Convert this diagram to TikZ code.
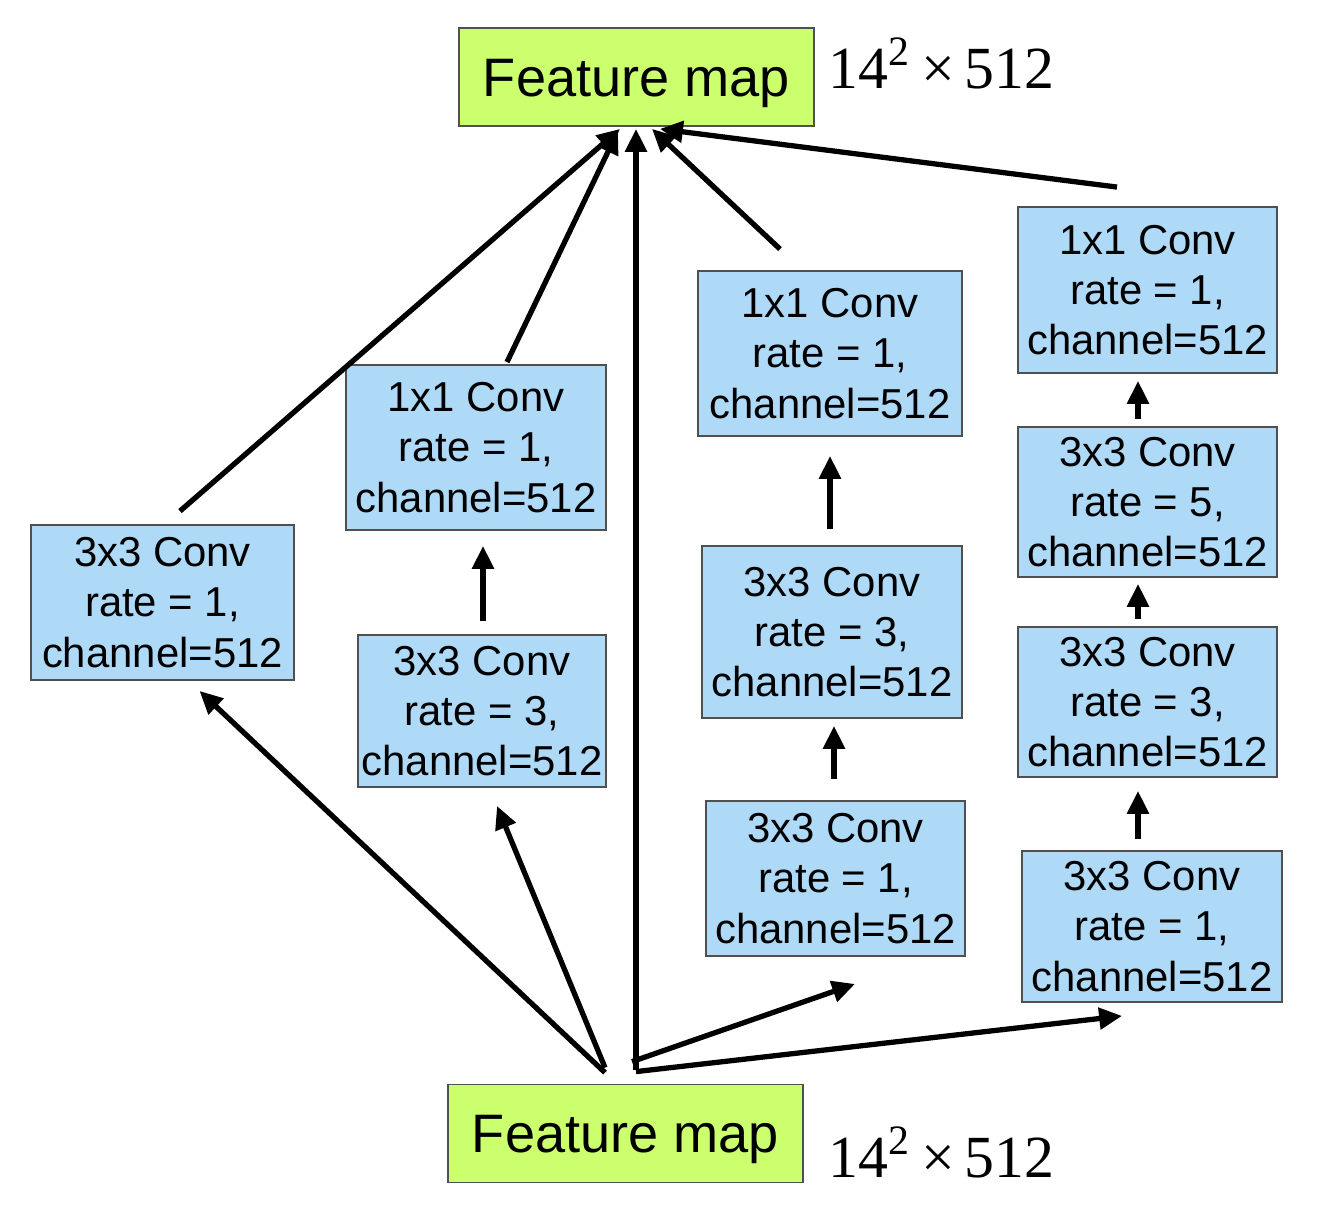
\documentclass[tikz,border=0pt]{standalone}
\usepackage{fontspec}
\setmainfont{Liberation Sans}
\newfontfamily\dimfont{Liberation Serif}
\definecolor{mapGreen}{RGB}{204,255,110}
\definecolor{convBlue}{RGB}{174,218,248}
\definecolor{boxEdge}{RGB}{80,80,80}
\usetikzlibrary{arrows.meta,positioning,calc}

\begin{document}
\begin{tikzpicture}[x=0.01cm, y=-0.01cm,
    conv/.style={rectangle, draw=boxEdge, fill=convBlue, line width=0.5pt,
                 inner sep=0pt, align=center, font=\fontsize{11.9}{14.3}\selectfont},
    fmap/.style={rectangle, draw=boxEdge, fill=mapGreen, line width=0.5pt,
                 minimum width=3.55cm, minimum height=0.98cm, text height=11pt, text depth=0pt,
                 font=\fontsize{15.4}{18}\selectfont},
    dim/.style={anchor=base west, inner sep=0pt, font=\dimfont\fontsize{17}{20}\selectfont},
    conn/.style={-{Triangle[length=6.5pt, width=6pt]}, line width=1.5pt}
  ]
  \useasboundingbox (0,0) rectangle (1322,1206);

  % feature maps
  \node[fmap] (fout) at (636.5,77)    {Feature map};
  \node[fmap] (fin)  at (625.5,1133.5){Feature map};
  \node[dim]  (dimout) at (828,88)    {14\textsuperscript{2}\,×\,512};
  \node[dim]  (dimin)  at (828,1177)  {14\textsuperscript{2}\,×\,512};

  % branch 1
  \node[conv, minimum width=2.63cm, minimum height=1.55cm] (c1a) at (162.5,602.5) {3x3 Conv\\rate = 1,\\channel=512};
  % branch 2
  \node[conv, minimum width=2.60cm, minimum height=1.65cm] (c2a) at (476,447.5) {1x1 Conv\\rate = 1,\\channel=512};
  \node[conv, minimum width=2.48cm, minimum height=1.52cm] (c2b) at (482,711)   {3x3 Conv\\rate = 3,\\channel=512};
  % branch 3
  \node[conv, minimum width=2.64cm, minimum height=1.65cm] (c3a) at (830,353.5) {1x1 Conv\\rate = 1,\\channel=512};
  \node[conv, minimum width=2.60cm, minimum height=1.72cm] (c3b) at (832,632)   {3x3 Conv\\rate = 3,\\channel=512};
  \node[conv, minimum width=2.59cm, minimum height=1.55cm] (c3c) at (835.5,878.5){3x3 Conv\\rate = 1,\\channel=512};
  % branch 4
  \node[conv, minimum width=2.59cm, minimum height=1.66cm] (c4a) at (1147.5,290) {1x1 Conv\\rate = 1,\\channel=512};
  \node[conv, minimum width=2.59cm, minimum height=1.50cm] (c4b) at (1147.5,502) {3x3 Conv\\rate = 5,\\channel=512};
  \node[conv, minimum width=2.59cm, minimum height=1.50cm] (c4c) at (1147.5,702) {3x3 Conv\\rate = 3,\\channel=512};
  \node[conv, minimum width=2.60cm, minimum height=1.51cm] (c4d) at (1152,926.5) {3x3 Conv\\rate = 1,\\channel=512};

  % from the input map
  \draw[conn] ($(fin.north)+(-20.5,-11)$) -- ($(c1a.south)+(37,10)$);
  \draw[conn] ($(fin.north)+(-20.5,-16)$) -- ($(c2b.south)+(15,18)$);
  \draw[conn] ($(fin.north)+(10.5,-14)$)  -- ($(fout.south)+(-0.5,2)$);
  \draw[conn] ($(fin.north)+(6.5,-22)$)   -- ($(c3c.south)+(19.5,27)$);
  \draw[conn] ($(fin.north)+(10.5,-12)$)  -- ($(c4d.south)+(-30,13)$);

  % inside the branches
  \draw[conn] ($(c2b.north)+(1,-13)$)    -- ($(c2a.south)+(7,15)$);
  \draw[conn] ($(c3b.north)+(-2,-16)$)   -- ($(c3a.south)+(0,19)$);
  \draw[conn] ($(c3c.north)+(-1.5,-21)$) -- ($(c3b.south)+(2,7)$);
  \draw[conn] ($(c4b.north)+(-9.5,-7)$)  -- ($(c4a.south)+(-9.5,7)$);
  \draw[conn] ($(c4c.north)+(-9.5,-7)$)  -- ($(c4b.south)+(-9.5,6)$);
  \draw[conn] ($(c4d.north)+(-14,-11)$)  -- ($(c4c.south)+(-9.5,13)$);

  % to the output map
  \draw[conn] ($(c1a.north)+(17.5,-13)$) -- ($(fout.south)+(-16.5,2)$);
  \draw[conn] ($(c2a.north)+(31,-2)$)    -- ($(fout.south)+(-18.5,4)$);
  \draw[conn] ($(c3a.north)+(-50,-21)$)  -- ($(fout.south)+(15.5,2)$);
  \draw[conn] ($(c4a.north)+(-30.5,-19)$)-- ($(fout.south)+(23.5,2)$);
\end{tikzpicture}
\end{document}
